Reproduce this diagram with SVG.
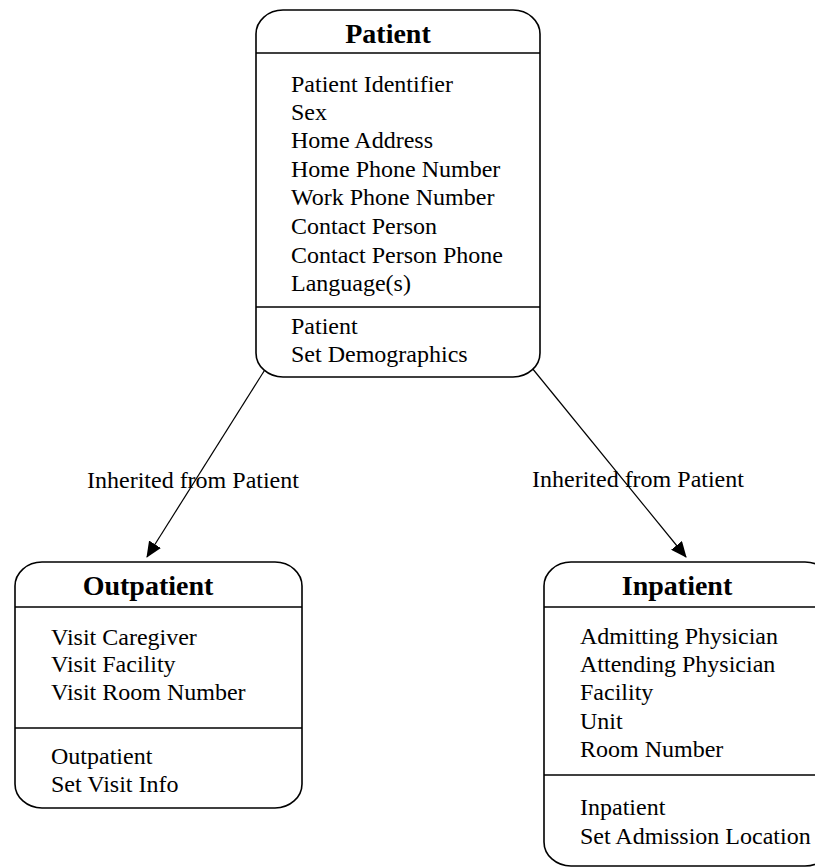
<svg xmlns="http://www.w3.org/2000/svg" width="815" height="867" viewBox="0 0 815 867">
  <style>
    .box { fill: #ffffff; stroke: #000000; stroke-width: 1.6; }
    .div { stroke: #000000; stroke-width: 1.6; }
    .title { font-family: "Liberation Serif", "Times New Roman", serif; font-weight: bold; font-size: 28px; text-anchor: middle; fill: #000; }
    .item { font-family: "Liberation Serif", "Times New Roman", serif; font-size: 24px; fill: #000; }
    .edge { stroke: #000000; stroke-width: 1.2; fill: none; marker-end: url(#arrow); }
  </style>
  <defs>
    <marker id="arrow" viewBox="0 0 16 14" refX="15" refY="7" markerWidth="16" markerHeight="14" markerUnits="userSpaceOnUse" orient="auto">
      <path d="M0,0 L16,7 L0,14 Z" fill="#000000"/>
    </marker>
  </defs>
  <rect width="815" height="867" fill="#ffffff"/>

  <g id="connectors">
    <line class="edge" x1="266" y1="368" x2="147" y2="557"/>
    <line class="edge" x1="532" y1="368" x2="686" y2="557"/>
    <text class="item" x="87" y="488">Inherited from Patient</text>
    <text class="item" x="532" y="487">Inherited from Patient</text>
  </g>

  <g id="patient">
    <rect class="box" x="256" y="10" width="284" height="367" rx="27" ry="24"/>
    <line class="div" x1="256" y1="53" x2="540" y2="53"/>
    <line class="div" x1="256" y1="307" x2="540" y2="307"/>
    <text class="title" x="388" y="43">Patient</text>
    <text class="item" x="291" y="92">Patient Identifier</text>
    <text class="item" x="291" y="120">Sex</text>
    <text class="item" x="291" y="148">Home Address</text>
    <text class="item" x="291" y="177">Home Phone Number</text>
    <text class="item" x="291" y="205">Work Phone Number</text>
    <text class="item" x="291" y="234">Contact Person</text>
    <text class="item" x="291" y="263">Contact Person Phone</text>
    <text class="item" x="291" y="291">Language(s)</text>
    <text class="item" x="291" y="334">Patient</text>
    <text class="item" x="291" y="362">Set Demographics</text>
  </g>

  <g id="outpatient">
    <rect class="box" x="15" y="562" width="287" height="246" rx="27" ry="24"/>
    <line class="div" x1="15" y1="607" x2="302" y2="607"/>
    <line class="div" x1="15" y1="728" x2="302" y2="728"/>
    <text class="title" x="148" y="595">Outpatient</text>
    <text class="item" x="51" y="645">Visit Caregiver</text>
    <text class="item" x="51" y="672">Visit Facility</text>
    <text class="item" x="51" y="700">Visit Room Number</text>
    <text class="item" x="51" y="764">Outpatient</text>
    <text class="item" x="51" y="792">Set Visit Info</text>
  </g>

  <g id="inpatient">
    <rect class="box" x="544" y="562" width="288" height="304" rx="27" ry="24"/>
    <line class="div" x1="544" y1="607" x2="832" y2="607"/>
    <line class="div" x1="544" y1="775" x2="832" y2="775"/>
    <text class="title" x="677" y="595">Inpatient</text>
    <text class="item" x="580" y="644">Admitting Physician</text>
    <text class="item" x="580" y="672">Attending Physician</text>
    <text class="item" x="580" y="700">Facility</text>
    <text class="item" x="580" y="729">Unit</text>
    <text class="item" x="580" y="757">Room Number</text>
    <text class="item" x="580" y="815">Inpatient</text>
    <text class="item" x="580" y="844">Set Admission Location</text>
  </g>
</svg>
